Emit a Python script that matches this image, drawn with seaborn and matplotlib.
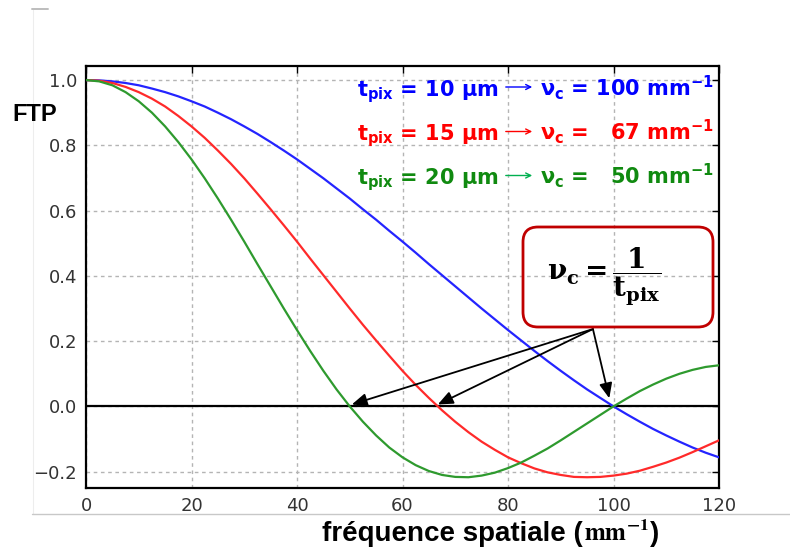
import matplotlib
matplotlib.use("Agg")
import matplotlib.pyplot as plt
import pandas as pd
import seaborn as sns
from matplotlib.patches import FancyBboxPatch, FancyArrowPatch
from matplotlib.lines import Line2D

# ---------------- data ----------------
freq = [0.0, 2.5, 5.0, 7.5, 10.0, 12.5, 15.0, 17.5, 20.0, 22.5, 25.0, 27.5, 30.0,
        32.5, 35.0, 37.5, 40.0, 42.5, 45.0, 47.5, 50.0, 52.5, 55.0, 57.5, 60.0,
        62.5, 65.0, 67.5, 70.0, 72.5, 75.0, 77.5, 80.0, 82.5, 85.0, 87.5, 90.0,
        92.5, 95.0, 97.5, 100.0, 102.5, 105.0, 107.5, 110.0, 112.5, 115.0, 117.5, 120.0]
ftp_10um = [1.000, 0.999, 0.996, 0.991, 0.984, 0.974, 0.963, 0.950, 0.935, 0.919,
            0.900, 0.880, 0.858, 0.835, 0.810, 0.784, 0.757, 0.728, 0.699, 0.668,
            0.637, 0.604, 0.572, 0.538, 0.505, 0.471, 0.436, 0.402, 0.368, 0.334,
            0.300, 0.267, 0.234, 0.202, 0.170, 0.139, 0.109, 0.080, 0.052, 0.026,
            0.000, -0.024, -0.047, -0.069, -0.089, -0.108, -0.126, -0.142, -0.156]
ftp_15um = [1.000, 0.998, 0.991, 0.979, 0.963, 0.943, 0.919, 0.890, 0.858, 0.823,
            0.784, 0.743, 0.699, 0.652, 0.604, 0.555, 0.505, 0.453, 0.402, 0.351,
            0.300, 0.250, 0.202, 0.155, 0.109, 0.066, 0.026, -0.012, -0.047, -0.079,
            -0.108, -0.133, -0.156, -0.174, -0.190, -0.202, -0.210, -0.216, -0.217, -0.216,
            -0.212, -0.206, -0.197, -0.185, -0.172, -0.157, -0.140, -0.122, -0.104]
ftp_20um = [1.000, 0.996, 0.984, 0.963, 0.935, 0.900, 0.858, 0.810, 0.757, 0.699,
            0.637, 0.572, 0.505, 0.436, 0.368, 0.300, 0.234, 0.170, 0.109, 0.052,
            0.000, -0.047, -0.089, -0.126, -0.156, -0.180, -0.198, -0.210, -0.216, -0.217,
            -0.212, -0.203, -0.189, -0.172, -0.151, -0.129, -0.104, -0.078, -0.052, -0.026,
            0.000, 0.024, 0.047, 0.067, 0.085, 0.100, 0.112, 0.121, 0.126]
pixel_sizes = ["10", "15", "20"]          # µm
cutoffs = [100, 67, 50]                   # mm^-1
cutoff_labels = ["100", "  67", "  50"]
xticks = [0, 20, 40, 60, 80, 100, 120]
yticks = [-0.2, 0.0, 0.2, 0.4, 0.6, 0.8, 1.0]

curve_colors = ["#2424ff", "#ff2a2a", "#2e9a2e"]
text_colors = ["#0000ff", "#ff0000", "#108a10"]
arrow_colors = ["#0000ff", "#ff0000", "#00b050"]

df = pd.concat([
    pd.DataFrame({"freq": freq, "ftp": vals, "tpix": lab})
    for lab, vals in zip(pixel_sizes, [ftp_10um, ftp_15um, ftp_20um])
])

# ---------------- style ----------------
sns.set_theme(style="white")
plt.rcParams.update({
    "font.family": ["DejaVu Sans"],
    "xtick.direction": "in",
    "ytick.direction": "in",
    "axes.edgecolor": "black",
    "axes.linewidth": 1.6,
})

W, H = 790, 549
fig = plt.figure(figsize=(W / 100, H / 100), dpi=100)
ax = fig.add_axes([86 / W, 1 - 488 / H, 633 / W, (488 - 65.7) / H])

ax.grid(True, color="#b4b4b4", linestyle=(0, (2.6, 2.6)), linewidth=1.0)
ax.set_axisbelow(True)

sns.lineplot(data=df, x="freq", y="ftp", hue="tpix",
             palette=dict(zip(pixel_sizes, curve_colors)),
             linewidth=1.6, legend=False, ax=ax, zorder=3)

ax.axhline(0, color="black", linewidth=1.6, zorder=2.5)

ax.set_xlim(0, 120)
ax.set_ylim(-0.25, 1.044)
ax.set_xticks(xticks)
ax.set_yticks(yticks)
ax.set_yticklabels([f"{v:.1f}".replace("-", "\u2212") for v in yticks])
ax.tick_params(axis="both", which="both", top=True, right=True, length=5, width=1,
               color="black", labelsize=13, labelcolor="#333333", pad=6.5)
ax.set_xlabel("")
ax.set_ylabel("")
for s in ax.spines.values():
    s.set_linewidth(1.6)
    s.set_color("black")

# ---------------- arrows from the formula box to the cut-off frequencies ----------------
src = (96.1, 0.237)
tip_offsets = {100: (-0.8, 0.025), 67: (-0.3, 0.006), 50: (0.4, 0.006)}
for c in cutoffs:
    dx, dy = tip_offsets[c]
    ax.annotate("", xy=(c + dx, 0 + dy), xytext=src,
                arrowprops=dict(arrowstyle="-|>,head_length=0.7,head_width=0.3",
                                color="black", lw=1.3, shrinkA=0, shrinkB=0,
                                mutation_scale=13), zorder=5)

# ---------------- formula box ----------------
inch = fig.dpi_scale_trans
box = FancyBboxPatch((5.23, 2.22), 1.90, 1.00,
                     boxstyle="round,pad=0,rounding_size=0.15",
                     transform=inch, facecolor="none", edgecolor="#c00000",
                     linewidth=2.0, zorder=6)
fig.add_artist(box)
fig.text(604 / W, 1 - 276 / H, r"$\mathbf{\nu_c = \dfrac{1}{t_{pix}}}$",
         ha="center", va="center", fontsize=20, math_fontfamily="dejavuserif",
         color="black")

# ---------------- colored legend lines ----------------
baselines = [96, 140, 184]
arrow_y = [87, 131.5, 175.5]
for lab, cl, tc, ac, yb, ya in zip(pixel_sizes, cutoff_labels, text_colors,
                                   arrow_colors, baselines, arrow_y):
    fig.text(357 / W, 1 - yb / H, r"$\mathbf{t_{pix}}$ = " + lab + " µm",
             ha="left", va="baseline", fontsize=15, fontweight="bold",
             color=tc, math_fontfamily="dejavusans")
    fig.text(714 / W, 1 - yb / H,
             r"$\mathbf{\nu_c}$ = " + cl + r" mm$^{\mathbf{-1}}$",
             ha="right", va="baseline", fontsize=15, fontweight="bold",
             color=tc, math_fontfamily="dejavusans")
    fig.add_artist(FancyArrowPatch((503 / W, 1 - ya / H), (535 / W, 1 - ya / H),
                                   transform=fig.transFigure, arrowstyle="->",
                                   mutation_scale=9, lw=1.0, color=ac))

# ---------------- axis titles ----------------
fig.text(35 / W, 1 - 115 / H, "FTP", ha="center", va="center", fontsize=17,
         fontweight="bold", family="Liberation Sans", color="black")

xl_base = 1 - 541 / H
t1 = fig.text(322 / W, xl_base, "fréquence spatiale (", ha="left", va="baseline",
              fontsize=20, fontweight="bold", family="Liberation Sans", color="black")
renderer = fig.canvas.get_renderer()
bb1 = t1.get_window_extent(renderer)
t2 = fig.text(bb1.x1 / W + 1 / W, xl_base, r"$\mathbf{mm^{-1}}$", ha="left",
              va="baseline", fontsize=18, math_fontfamily="stix", color="black")
bb2 = t2.get_window_extent(renderer)
fig.text(bb2.x1 / W + 1 / W, xl_base, ")", ha="left", va="baseline",
         fontsize=20, fontweight="bold", family="Liberation Sans", color="black")

# ---------------- faint frame from the original slide ----------------
fig.add_artist(Line2D([32.5 / W, 32.5 / W], [1 - 9 / H, 1 - 514 / H],
                      transform=fig.transFigure, color="#ededed", lw=0.8))
fig.add_artist(Line2D([32 / W, 1.0], [1 - 514 / H, 1 - 514 / H],
                      transform=fig.transFigure, color="#c8c8c8", lw=1.0))
fig.add_artist(Line2D([32 / W, 48 / W], [1 - 9 / H, 1 - 9 / H],
                      transform=fig.transFigure, color="#bdbdbd", lw=1.4))

fig.savefig("out.png", dpi=100, facecolor="white")
